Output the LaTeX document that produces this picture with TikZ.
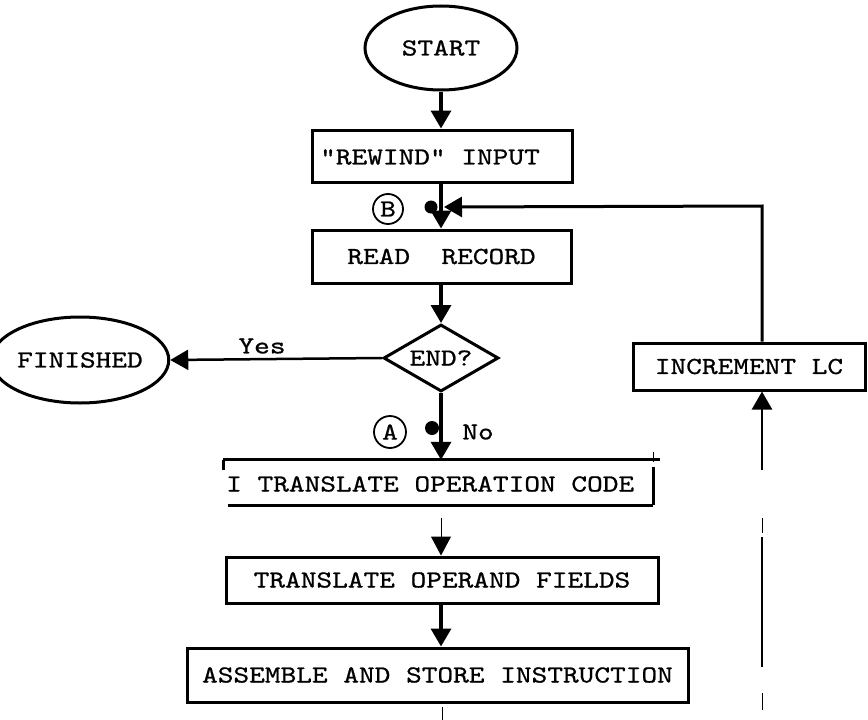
\documentclass[tikz,border=0pt]{standalone}
\usepackage{fontspec}
\setmonofont{lmmono10-regular}[Extension=.otf, FakeStretch=1.22, FakeBold=0.8]
\usetikzlibrary{shapes.geometric,arrows.meta,calc}
\begin{document}
\begin{tikzpicture}[x=1pt,y=-1pt,
  every node/.style={font=\ttfamily\fontsize{24.5}{28}\selectfont, inner sep=0pt},
  terminal/.style={draw, ellipse, line width=3pt},
  boxnode/.style={draw, rectangle, line width=3pt},
  decision/.style={draw, diamond, line width=3pt, aspect=1.7},
  frame/.style={line width=3pt},
  tick/.style={line width=0.8pt},
  flow/.style={line width=3.5pt, -{Triangle[width=20pt,length=18pt]}},
  thinflow/.style={line width=1pt, -{Triangle[width=20pt,length=19pt]}},
  marker/.style={draw, circle, line width=1.8pt, minimum size=30pt},
  blob/.style={fill, circle, minimum size=13pt}
]
\useasboundingbox (0,0) rectangle (868,720);

% main column
\coordinate (jB) at (441,207);
\node[terminal, minimum width=152pt, minimum height=84pt] (start) at (441,48) {START};
\node[boxnode, minimum width=260pt, minimum height=52pt] (rewind) at (442,156) {};
\node (rewindtxt) at (430,157) {"REWIND" INPUT};
\node[boxnode, minimum width=259pt, minimum height=53pt] (read) at (441.5,256.5) {READ\ \ RECORD};
\node[decision, minimum width=115pt, minimum height=67pt] (end) at (441,358) {END?};
\node[terminal, minimum width=146pt, minimum height=86pt] (finished) at (80,360) {FINISHED};

% operation code box (partly open frame)
\node[minimum width=430pt, minimum height=45pt] (opbox) at (438,482.5) {};
\node[anchor=west] (optext) at (226,484) {I TRANSLATE OPERATION CODE};
\draw[frame] (opbox.north west) -- ++(437,0);
\draw[frame] ($(opbox.south west)+(5,0)$) -- (opbox.south east);
\draw[frame] ($(opbox.north east)+(0,7)$) -- (opbox.south east);
\draw[frame] ($(opbox.north west)+(1,0)$) -- ++(0,10);
\draw[tick] ($(opbox.north east)+(0,-8)$) -- ++(0,10);

\node[boxnode, minimum width=432pt, minimum height=46pt] (operand) at (442,580) {TRANSLATE OPERAND FIELDS};
\node[boxnode, minimum width=501pt, minimum height=54pt] (assemble) at (437.5,675) {ASSEMBLE AND STORE INSTRUCTION};
\node[boxnode, minimum width=232pt, minimum height=47pt] (inc) at (749,366.5) {INCREMENT LC};

% connector markers
\node[marker] (mB) at (388,209) {B};
\node[blob] (dotB) at (431,207) {};
\node[marker, minimum size=32pt] (mA) at (390,432) {A};
\node[blob, minimum size=14pt] (dotA) at (432,428) {};
\node (no) at (478,432) {No};
\node (yes) at (262,346) {Yes};

% flow lines
\draw[flow] (start.south) -- (start.south |- rewind.north);
\draw[flow] (rewind.south -| jB) -- (read.north -| jB);
\draw[flow] (read.south -| jB) -- (end.north);
\draw[flow, line width=2.5pt] (end.west) -- (finished.east);
\draw[flow] (end.south) -- (end.south |- opbox.north);
\coordinate (opout) at ($(jB |- opbox.south)+(0,13)$);
\draw[thinflow] (opout) -- (jB |- operand.north);
\draw[flow] (jB |- operand.south) -- (jB |- assemble.north);
\draw[tick] ($(assemble.south)+(5,3)$) -- ++(0,13);

% return loop on the right
\coordinate (loopx) at (762,206);
\draw[flow, line width=3pt] (loopx |- inc.north) -- (loopx) -- ($(jB)+(3,0)$);
\coordinate (lowtop) at (762,470);
\draw[flow, line width=2.5pt] (lowtop) -- (lowtop |- inc.south);
\draw[tick] (762,518) -- (762,533);
\draw[line width=2.5pt] (762,537) -- (762,667);
\draw[tick] (762,693) -- (762,710);
\end{tikzpicture}
\end{document}
